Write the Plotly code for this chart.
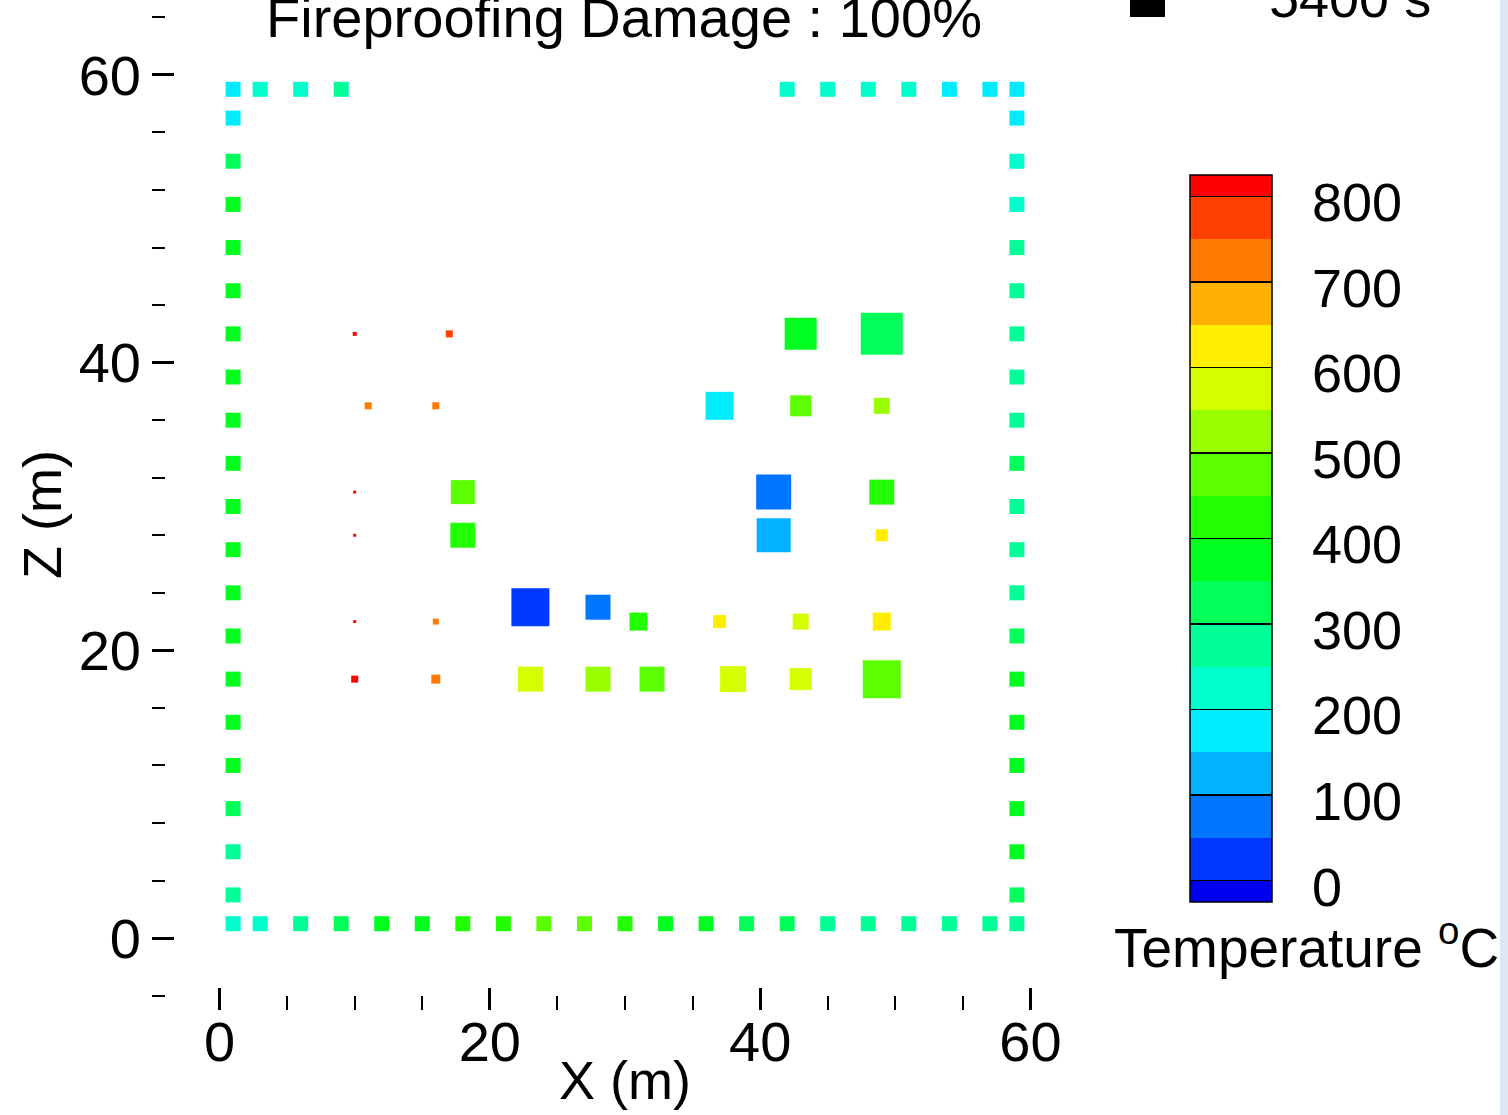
import plotly.graph_objects as go

# ---------------- data ----------------
# frame (perimeter) grid positions, metres
frame_coords = [1, 3, 6, 9, 12, 15, 18, 21, 24, 27, 30, 33, 36, 39, 42, 45, 48, 51, 54, 57, 59]

# left column (X=1), Z ascending
left_temp = [215, 260, 285, 340, 375, 385, 390, 375, 375, 375, 375, 375, 375, 375,
             375, 375, 375, 375, 330, 175, 175]
# right column (X=59), Z ascending
right_temp = [250, 330, 375, 380, 380, 380, 380, 320, 270, 270, 270, 330, 270, 270,
              270, 260, 260, 225, 225, 175, 175]
# bottom row (Z=1), X = 3 ... 57
bottom_x = [3, 6, 9, 12, 15, 18, 21, 24, 27, 30, 33, 36, 39, 42, 45, 48, 51, 54, 57]
bottom_temp = [240, 290, 340, 375, 375, 405, 420, 470, 470, 420, 390, 380, 345, 330,
               260, 275, 275, 275, 260]
# top row (Z=59), only the members that are present
top_x = [3, 6, 9, 42, 45, 48, 51, 54, 57]
top_temp = [225, 230, 275, 225, 225, 235, 225, 175, 175]
frame_size = 15

# interior members
interior_x = [10, 17, 43, 49,
              11, 16, 37, 43, 49,
              10, 18, 41, 49,
              10, 18, 41, 49,
              10, 16, 23, 28, 31, 37, 43, 49,
              10, 16, 23, 28, 32, 38, 43, 49]
interior_z = [42, 42, 42, 42,
              37, 37, 37, 37, 37,
              31, 31, 31, 31,
              28, 28, 28, 28,
              22, 22, 23, 23, 22, 22, 22, 22,
              18, 18, 18, 18, 18, 18, 18, 18]
interior_temp = [820, 760, 390, 330,
                 720, 720, 175, 480, 520,
                 820, 480, 75, 420,
                 820, 430, 125, 620,
                 820, 720, 25, 75, 420, 630, 570, 620,
                 820, 720, 570, 520, 480, 570, 570, 480]
interior_size = [4, 7, 32, 42,
                 7, 7, 28, 21, 16,
                 3, 24, 35, 25,
                 3, 25, 34, 12,
                 3, 6, 38, 25, 18, 13, 16, 18,
                 7, 9, 25, 25, 25, 26, 22, 38]

# colour levels (deg C)
level_bounds = [-25, 0, 50, 100, 150, 200, 250, 300, 350, 400, 450,
                500, 550, 600, 650, 700, 750, 800, 825]
level_colors = ["#0000F0", "#0038FF", "#0076FF", "#00B2FF", "#00ECFF", "#00FFCC",
                "#00FF96", "#00FF58", "#00FF1E", "#22FF00", "#5CFF00", "#99FF00",
                "#D4FF00", "#FFEE00", "#FFB000", "#FF7A00", "#FF4000", "#FF0000"]
label_levels = [0, 100, 200, 300, 400, 500, 600, 700, 800]
label_text = ["0", "100", "200", "300", "400", "500", "600", "700", "800"]

title_text = "Fireproofing Damage : 100%"
time_text = "5400 s"

# ---------------- layout geometry ----------------
W, H = 1508, 1115
ML, MR, MT, MB = 152, 410, 3, 105
PW, PH = W - ML - MR, H - MT - MB
X_RANGE = [-5, 65]
Y_RANGE = [-5, 65]


def px_x(px):
    return (px - ML) / PW


def px_y(py):
    return (H - MB - py) / PH


cmin, cmax = level_bounds[0], level_bounds[-1]


def norm(v):
    return (v - cmin) / (cmax - cmin)


# discrete colour scale with thin black separators at labelled levels
d = 0.9
stops = []
for i, c in enumerate(level_colors):
    lo, hi = level_bounds[i], level_bounds[i + 1]
    if lo in label_levels:
        stops.append([norm(lo - d), "#000000"])
        stops.append([norm(lo + d), "#000000"])
        lo = lo + d
    stops.append([norm(lo), c])
    hi_e = hi - d if hi in label_levels else hi
    stops.append([norm(hi_e), c])
stops[0][0] = 0.0
stops[-1][0] = 1.0

# labels sit slightly below their separator lines, as in the original
label_offset = 7
label_pos = [v - label_offset for v in label_levels]

# ---------------- traces ----------------
fx = [1] * len(frame_coords) + [59] * len(frame_coords) + bottom_x + top_x
fz = frame_coords + frame_coords + [1] * len(bottom_x) + [59] * len(top_x)
ft = left_temp + right_temp + bottom_temp + top_temp

fig = go.Figure()
fig.add_trace(go.Scatter(
    x=fx, y=fz, mode="markers", showlegend=False, hoverinfo="skip",
    marker=dict(symbol="square", size=frame_size, color=ft, opacity=1,
                coloraxis="coloraxis", line=dict(width=0)),
))
fig.add_trace(go.Scatter(
    x=interior_x, y=interior_z, mode="markers", showlegend=False,
    marker=dict(symbol="square", size=interior_size, color=interior_temp, opacity=1,
                coloraxis="coloraxis", line=dict(width=0)),
))

FONT = "Liberation Sans, Arial, sans-serif"

fig.update_layout(
    width=W, height=H,
    margin=dict(l=ML, r=MR, t=MT, b=MB, pad=0, autoexpand=False),
    paper_bgcolor="white", plot_bgcolor="white",
    font=dict(family=FONT, color="black"),
    coloraxis=dict(
        colorscale=stops, cmin=cmin, cmax=cmax,
        colorbar=dict(
            x=px_x(1190), xanchor="left", xpad=0,
            y=px_y((175 + 902) / 2), yanchor="middle", ypad=0,
            thicknessmode="pixels", thickness=82,
            lenmode="pixels", len=727,
            outlinewidth=1.5, outlinecolor="black",
            tickmode="array", tickvals=label_pos, ticktext=label_text,
            ticks="outside", ticklen=29, tickcolor="rgba(0,0,0,0)",
            tickfont=dict(family=FONT, size=54, color="black"),
        ),
    ),
    xaxis=dict(
        range=X_RANGE, showgrid=False, zeroline=False, showline=False,
        tickmode="linear", tick0=0, dtick=20,
        ticks="inside", ticklen=22, tickwidth=3, tickcolor="black",
        minor=dict(tickmode="linear", tick0=0, dtick=5, ticks="inside",
                   ticklen=14, tickwidth=1.5, tickcolor="black"),
        tickfont=dict(family=FONT, size=56, color="black"),
        ticklabelstandoff=-6,
    ),
    yaxis=dict(
        range=Y_RANGE, showgrid=False, zeroline=False, showline=False,
        tickmode="linear", tick0=0, dtick=20,
        ticks="inside", ticklen=22, tickwidth=3, tickcolor="black",
        minor=dict(tickmode="linear", tick0=0, dtick=4, ticks="inside",
                   ticklen=13, tickwidth=1.5, tickcolor="black"),
        tickfont=dict(family=FONT, size=56, color="black"),
        ticklabelstandoff=10,
    ),
    annotations=[
        dict(text=title_text, xref="paper", yref="paper", x=px_x(624), y=px_y(18),
             xanchor="center", yanchor="middle", showarrow=False,
             font=dict(family=FONT, size=56, color="black")),
        dict(text=time_text, xref="paper", yref="paper", x=px_x(1350), y=px_y(-2),
             xanchor="center", yanchor="middle", showarrow=False,
             font=dict(family=FONT, size=54, color="black")),
        dict(text="X (m)", xref="paper", yref="paper", x=px_x(625), y=px_y(1080),
             xanchor="center", yanchor="middle", showarrow=False,
             font=dict(family=FONT, size=54, color="black")),
        dict(text="Z (m)", xref="paper", yref="paper", x=px_x(42), y=px_y(515),
             xanchor="center", yanchor="middle", showarrow=False, textangle=-90,
             font=dict(family=FONT, size=54, color="black")),
        dict(text="Temperature <sup>o</sup>C", xref="paper", yref="paper",
             x=px_x(1112), y=px_y(944), xanchor="left", yanchor="middle",
             showarrow=False, font=dict(family=FONT, size=55, color="black")),
    ],
    shapes=[
        dict(type="rect", xref="paper", yref="paper",
             x0=px_x(1130), x1=px_x(1165), y0=px_y(17), y1=px_y(-18),
             fillcolor="black", line=dict(width=0)),
        dict(type="rect", xref="paper", yref="paper",
             x0=px_x(1500), x1=px_x(1510), y0=px_y(1120), y1=px_y(-5),
             fillcolor="#DCE7F3", line=dict(width=0), layer="below"),
    ],
)

fig.write_html("out.html")
